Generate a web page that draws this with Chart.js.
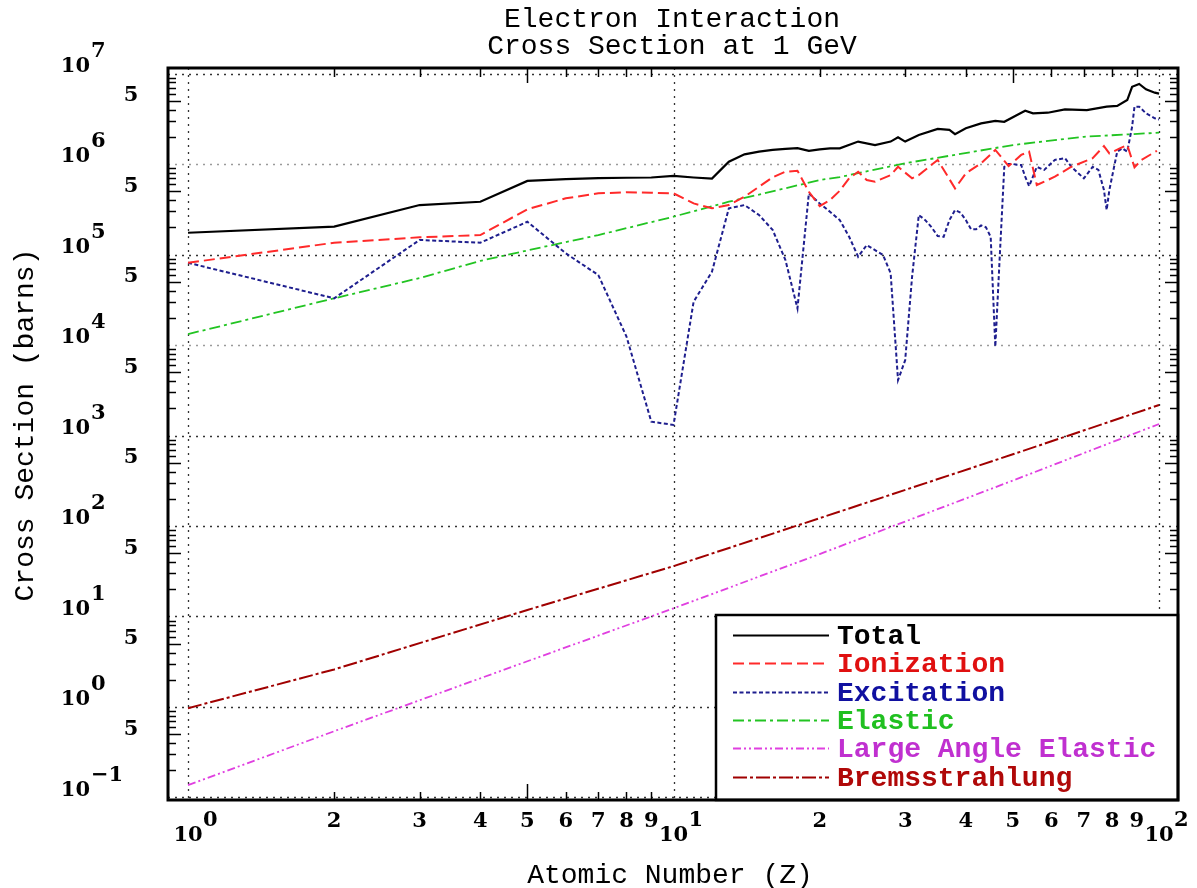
<!DOCTYPE html>
<html>
<head>
<meta charset="utf-8">
<script src="https://cdn.jsdelivr.net/npm/chart.js@4/dist/chart.umd.min.js"></script>
<style>
html,body{margin:0;padding:0;background:#fff;}
#wrap{width:1197px;height:888px;position:relative;overflow:hidden;}
</style>
</head>
<body>
<div id="wrap"><canvas id="c" width="1197" height="888"></canvas></div>
<script>
// ---------------- data ----------------
const titleLines = ['Electron Interaction', 'Cross Section at 1 GeV'];
const xTitle = 'Atomic Number (Z)';
const yTitle = 'Cross Section (barns)';
const seriesNames = ['Total', 'Ionization', 'Excitation', 'Elastic', 'Large Angle Elastic', 'Bremsstrahlung'];

const zTotal = [1,2,3,4,5,6,7,8,9,10,11,12,13,14,15,16,17,18,19,20,21,22,24,26,28,29,30,32,35,37,38,40,43,46,48,51,53,55,59,64,71,78,82,86,88,91,94,98,100];
const total  = [1.74e5,2.03e5,3.52e5,3.83e5,6.5e5,6.8e5,7.0e5,7.05e5,7.1e5,7.4e5,7.1e5,6.9e5,1.06e6,1.28e6,1.37e6,1.43e6,1.47e6,1.50e6,1.40e6,1.45e6,1.49e6,1.49e6,
                1.77e6,1.62e6,1.77e6,1.97e6,1.77e6,2.09e6,2.44e6,2.38e6,2.14e6,2.48e6,2.81e6,3.0e6,2.93e6,3.48e6,3.88e6,3.63e6,3.69e6,4.02e6,3.95e6,4.30e6,4.38e6,5.09e6,7.14e6,7.66e6,6.68e6,6.14e6,6.0e6];

const zIon = [1,2,3,4,5,6,7,8,9,10,11,12,13,14,15,16,17,18,19,20,21,22,23,24,25,26,28,29,31,32,35,38,40,43,46,49,52,54,56,61,66,73,77,79,83,86,89,92,99];
const ionization = [8.1e4,1.35e5,1.55e5,1.64e5,3.16e5,4.18e5,4.74e5,4.87e5,4.82e5,4.74e5,3.67e5,3.24e5,3.52e5,4.35e5,5.61e5,7.13e5,8.22e5,8.43e5,4.94e5,3.43e5,4.0e5,5.07e5,6.95e5,8.22e5,6.65e5,6.38e5,
                    7.55e5,9.33e5,6.95e5,7.55e5,1.11e6,5.38e5,7.89e5,1.02e6,1.43e6,9.5e5,1.26e6,1.37e6,5.86e5,7.24e5,9.33e5,1.16e6,1.58e6,1.31e6,1.49e6,1.62e6,9.2e5,1.11e6,1.40e6];

const zExc = [1,2,3,4,5,6,7,8,9,10,11,12,13,14,15,16,17,18,19,20,21,22,23,24,25,
              27,28,29,30,31,32,33,34,35,36,37,38,39,40,41,42,43,44,45,46,47,48,49,50,51,52,53,54,
              56,58,61,64,66,70,73,75,77,78,79,82,84,86,88,89,91,94,98,100];
const excitation = [8.1e4,3.28e4,1.45e5,1.35e5,2.3e5,1.03e5,5.93e4,1.24e4,1.42e3,1.31e3,3.01e4,6.46e4,3.24e5,3.52e5,2.73e5,1.87e5,8.7e4,2.54e4,4.74e5,3.67e5,2.97e5,2.4e5,1.57e5,9.46e4,1.27e5,
                    9.9e4,6.2e4,4.1e3,6.8e3,5.7e4,2.73e5,2.4e5,2.0e5,1.6e5,1.57e5,2.4e5,3.1e5,2.9e5,2.4e5,1.9e5,1.9e5,2.1e5,2.0e5,1.57e5,9.6e3,1.0e5,9.3e5,1.0e6,1.0e6,9.8e5,9.75e5,7.25e5,5.7e5,
                    9.3e5,8.6e5,1.11e6,1.16e6,9.3e5,6.95e5,9.3e5,8.6e5,5.16e5,3.1e5,5.16e5,1.37e6,1.49e6,1.37e6,2.58e6,4.3e6,4.3e6,3.63e6,3.2e6,3.1e6];

const zEl = [1,2,3,4,5,7,10,13,20,22,30,50,70,100];
const elastic = [1.32e4,3.28e4,5.5e4,8.5e4,1.11e5,1.64e5,2.62e5,3.83e5,6.65e5,7.18e5,1.02e6,1.62e6,2.0e6,2.22e6];

const zLae = [1,2,5,10,20,50,100];
const largeAngle = [0.137,0.54,3.2,12.3,49,318,1340];

const zBrem = [1,2,5,10,20,50,100];
const brems = [0.97,2.6,11.8,36,122,620,2170];

// axis ticks
const xDecades = [1, 10, 100];
const xDecadeExp = ['0', '1', '2'];
const xMinorMult = [2,3,4,5,6,7,8,9];
const yDecadeExp = [-1,0,1,2,3,4,5,6,7];
const yFiveExp = [-1,0,1,2,3,4,5,6];

// ---------------- styles ----------------
const lineColors = ['#000000','#ff2a2a','#1e1e8e','#22c422','#e040e0','#a00000'];
const textColors = ['#000000','#e01010','#1010a0','#20c020','#c030d0','#b00808'];
const dashes = [[],[11,5],[4,2.5],[11,4,3,4],[8,3,2,3,2,3],[14,3,3,3]];
const widths = [2.2,2,2,1.8,1.8,2];

function pts(zs, vs){ return zs.map((z,i)=>({x:z, y:vs[i]})); }
const seriesZ = [zTotal, zIon, zExc, zEl, zLae, zBrem];
const seriesV = [total, ionization, excitation, elastic, largeAngle, brems];

const datasets = seriesNames.map((name,i)=>({
  label: name,
  data: pts(seriesZ[i], seriesV[i]),
  showLine: true,
  borderColor: lineColors[i],
  backgroundColor: lineColors[i],
  borderWidth: widths[i],
  borderDash: dashes[i],
  pointRadius: 0,
  pointHoverRadius: 0,
  tension: 0,
  fill: false
}));

const MONO = '"Liberation Mono", "DejaVu Sans Mono", monospace';
const SERIF = '"DejaVu Serif", "Liberation Serif", serif';

const decor = {
  id: 'decor',
  beforeDatasetsDraw(chart){
    const {ctx, chartArea:a, scales:{x,y}} = chart;
    ctx.save();
    ctx.lineWidth = 1.3;
    ctx.setLineDash([2,5]);
    yDecadeExp.forEach(e=>{
      const v = Math.pow(10,e);
      if (v < y.min || v > y.max) return;
      const py = Math.round(y.getPixelForValue(v)) + 0.5;
      ctx.strokeStyle = (e===6 || e===4) ? '#9a9a9a' : '#333333';
      ctx.beginPath(); ctx.moveTo(a.left, py); ctx.lineTo(a.right, py); ctx.stroke();
    });
    xDecades.forEach(v=>{
      const px = Math.round(x.getPixelForValue(v)) + 0.5;
      ctx.strokeStyle = '#333333';
      ctx.beginPath(); ctx.moveTo(px, a.top); ctx.lineTo(px, a.bottom); ctx.stroke();
    });
    ctx.restore();
  },
  afterDatasetsDraw(chart){
    const {ctx, chartArea:a, scales:{x,y}} = chart;
    ctx.save();
    ctx.setLineDash([]);
    ctx.strokeStyle = '#000';
    ctx.lineWidth = 1.5;
    // minor ticks, y
    for (let e=-2; e<=7; e++){
      xMinorMult.forEach(k=>{
        const v = k*Math.pow(10,e);
        if (v <= y.min || v >= y.max) return;
        const py = Math.round(y.getPixelForValue(v)) + 0.5;
        const len = (k===5) ? 13 : 8;
        ctx.beginPath(); ctx.moveTo(a.left, py); ctx.lineTo(a.left+len, py); ctx.stroke();
        ctx.beginPath(); ctx.moveTo(a.right, py); ctx.lineTo(a.right-len, py); ctx.stroke();
      });
    }
    // minor ticks, x
    for (let e=-1; e<=2; e++){
      xMinorMult.forEach(k=>{
        const v = k*Math.pow(10,e);
        if (v <= x.min || v >= x.max) return;
        const px = Math.round(x.getPixelForValue(v)) + 0.5;
        const lb = (k===5) ? 16 : 8;
        const lt = (k===5) ? 15 : 9;
        ctx.beginPath(); ctx.moveTo(px, a.bottom); ctx.lineTo(px, a.bottom-lb); ctx.stroke();
        ctx.beginPath(); ctx.moveTo(px, a.top); ctx.lineTo(px, a.top+lt); ctx.stroke();
      });
    }

    // tick labels
    ctx.fillStyle = '#000';
    ctx.font = 'bold 21px ' + SERIF;
    ctx.textBaseline = 'middle';
    yDecadeExp.forEach(e=>{
      const py = y.getPixelForValue(Math.pow(10,e));
      ctx.textAlign = 'right';
      ctx.fillText('10', 90, py-7);
      ctx.textAlign = 'left';
      ctx.fillText(e < 0 ? '\u2212' + Math.abs(e) : String(e), 91, py-22);
    });
    yFiveExp.forEach(e=>{
      const py = y.getPixelForValue(5*Math.pow(10,e));
      ctx.textAlign = 'center';
      ctx.fillText('5', 131, py-5);
    });
    [1,10].forEach(base=>{
      xMinorMult.forEach(k=>{
        const px = x.getPixelForValue(k*base);
        ctx.textAlign = 'center';
        ctx.fillText(String(k), px, 822);
      });
    });
    xDecades.forEach((v,i)=>{
      const px = x.getPixelForValue(v);
      ctx.textAlign = 'center';
      ctx.fillText('10', px, 836);
      ctx.textAlign = 'left';
      ctx.fillText(xDecadeExp[i], px+15, 821);
    });

    // titles
    ctx.font = '28px ' + MONO;
    ctx.textBaseline = 'alphabetic';
    ctx.textAlign = 'center';
    ctx.fillText(titleLines[0], 672, 27);
    ctx.fillText(titleLines[1], 672, 54);
    ctx.fillText(xTitle, 670, 883);
    ctx.save();
    ctx.translate(33, 425);
    ctx.rotate(-Math.PI/2);
    ctx.fillText(yTitle, 0, 0);
    ctx.restore();

    // legend
    const lx0 = 716, ly0 = 615, lx1 = a.right, ly1 = a.bottom;
    ctx.fillStyle = '#fff';
    ctx.fillRect(lx0, ly0, lx1-lx0, ly1-ly0);
    const rowY = [635, 663, 692, 720, 748, 777];
    chart.data.datasets.forEach((ds,i)=>{
      const ry = rowY[i] + 0.5;
      ctx.strokeStyle = ds.borderColor;
      ctx.lineWidth = ds.borderWidth;
      ctx.setLineDash(ds.borderDash || []);
      ctx.beginPath(); ctx.moveTo(733, ry); ctx.lineTo(829, ry); ctx.stroke();
      ctx.setLineDash([]);
      ctx.fillStyle = textColors[i];
      ctx.font = 'bold 28px ' + MONO;
      ctx.textAlign = 'left';
      ctx.textBaseline = 'alphabetic';
      ctx.fillText(ds.label, 837, rowY[i]+9);
    });
    ctx.setLineDash([]);
    ctx.strokeStyle = '#000';
    ctx.lineWidth = 2.5;
    ctx.strokeRect(lx0, ly0, lx1-lx0, ly1-ly0);

    // plot frame
    ctx.lineWidth = 3;
    ctx.strokeRect(a.left, a.top, a.right-a.left, a.bottom-a.top);
    ctx.restore();
  }
};

new Chart(document.getElementById('c'), {
  type: 'scatter',
  data: { datasets },
  options: {
    responsive: false,
    animation: false,
    devicePixelRatio: 1,
    layout: { padding: { left: 168, top: 68, right: 19, bottom: 88 } },
    plugins: { legend: { display: false }, title: { display: false }, tooltip: { enabled: false } },
    scales: {
      x: { type: 'logarithmic', min: 0.9095, max: 109.4, bounds: 'data', display: false },
      y: { type: 'logarithmic', min: 0.0938, max: 1.151e7, bounds: 'data', display: false }
    }
  },
  plugins: [decor]
});
</script>
</body>
</html>
